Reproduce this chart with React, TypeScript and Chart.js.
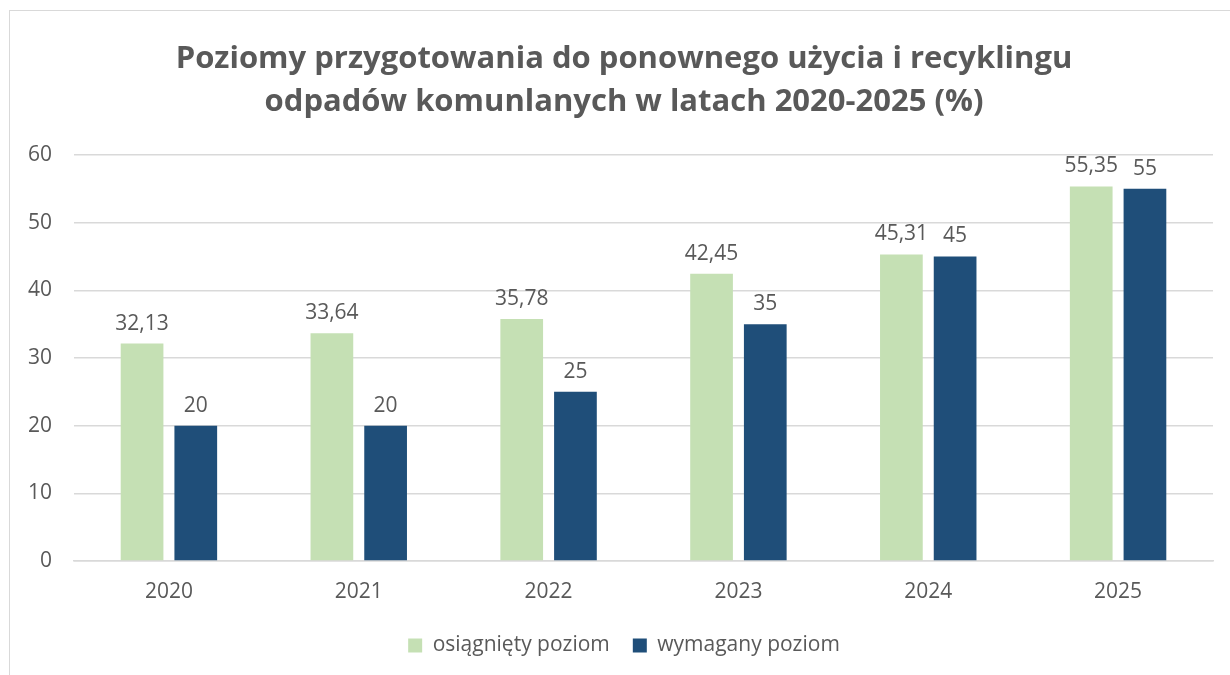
import React, { useEffect, useRef } from "react";
import { Chart, registerables } from "chart.js";

Chart.register(...registerables);

const categories = ["2020", "2021", "2022", "2023", "2024", "2025"];
const achieved = [32.13, 33.64, 35.78, 42.45, 45.31, 55.35];
const required = [20, 20, 25, 35, 45, 55];
const seriesNames = ["osiągnięty poziom", "wymagany poziom"];
const titleLines = [
  "Poziomy przygotowania do ponownego użycia i recyklingu",
  "odpadów komunlanych w latach 2020-2025 (%)",
];

const FONT = "'Open Sans', sans-serif";
const TEXT = "#595959";
const GRID = "#D9D9D9";

const valueLabels = {
  id: "valueLabels",
  afterDatasetsDraw(chart: any) {
    const ctx = chart.ctx;
    ctx.save();
    ctx.font = `21px ${FONT}`;
    ctx.fillStyle = TEXT;
    ctx.textAlign = "center";
    ctx.textBaseline = "alphabetic";
    chart.data.datasets.forEach((ds: any, i: number) => {
      const meta = chart.getDatasetMeta(i);
      meta.data.forEach((el: any, j: number) => {
        const v = ds.data[j];
        ctx.fillText(String(v).replace(".", ","), el.x, el.y - 14);
      });
    });
    ctx.restore();
  },
};

export default function App() {
  const ref = useRef<HTMLCanvasElement>(null);
  useEffect(() => {
    if (!ref.current) return;
    const chart = new Chart(ref.current, {
      type: "bar",
      data: {
        labels: categories,
        datasets: [
          {
            label: seriesNames[0],
            data: achieved,
            backgroundColor: "#C5E0B4",
            categoryPercentage: 0.566,
            barPercentage: 0.795,
          },
          {
            label: seriesNames[1],
            data: required,
            backgroundColor: "#1F4E79",
            categoryPercentage: 0.566,
            barPercentage: 0.795,
          },
        ],
      },
      options: {
        animation: false,
        responsive: false,
        maintainAspectRatio: false,
        layout: { padding: { left: 25, right: 7, top: 0, bottom: 9 } },
        plugins: {
          title: {
            display: true,
            text: titleLines,
            color: TEXT,
            font: { family: FONT, size: 31, weight: "bold", lineHeight: 1.39 },
            padding: { top: 38, bottom: 30.8 },
          },
          legend: {
            position: "bottom",
            labels: {
              color: TEXT,
              font: { family: FONT, size: 21 },
              boxWidth: 14,
              boxHeight: 14,
              padding: 23,
            },
          },
          tooltip: { enabled: false },
        },
        scales: {
          x: {
            grid: { display: false, drawTicks: false },
            border: { color: GRID, width: 1.5 },
            ticks: { color: TEXT, font: { family: FONT, size: 21 }, padding: 18 },
            afterFit: (s: any) => {
              s.height = 51;
            },
          },
          y: {
            min: 0,
            max: 60,
            ticks: { stepSize: 10, color: TEXT, font: { family: FONT, size: 21 }, padding: 22 },
            grid: { color: GRID, lineWidth: 1.5, drawTicks: false },
            border: { display: false },
            afterFit: (s: any) => {
              s.width = 49;
            },
          },
          y2: {
            position: "right",
            min: 0,
            max: 60,
            grid: { display: false, drawTicks: false },
            border: { display: false },
            ticks: { display: false },
            afterFit: (s: any) => {
              s.width = 10;
            },
          },
        },
      },
      plugins: [valueLabels],
    });
    return () => chart.destroy();
  }, []);
  return (
    <div style={{ position: "fixed", left: 0, top: 0, width: 1230, height: 675, background: "#fff" }}>
      <div
        style={{
          position: "absolute",
          left: 9,
          top: 10,
          width: 1240,
          height: 680,
          borderLeft: "1.5px solid " + GRID,
          borderTop: "1.5px solid " + GRID,
        }}
      />
      <canvas ref={ref} width={1230} height={675} style={{ position: "absolute", left: 0, top: 0 }} />
    </div>
  );
}
